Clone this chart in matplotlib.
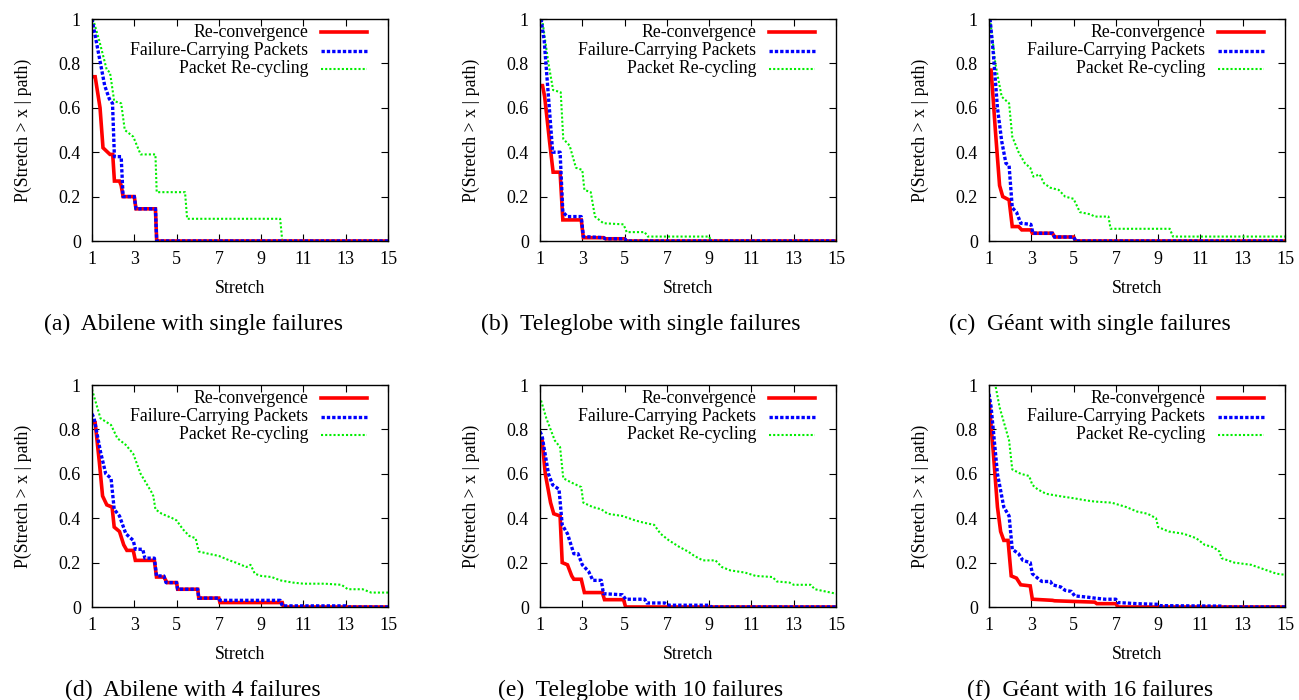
import matplotlib
matplotlib.use("Agg")
import matplotlib.pyplot as plt

plt.rcParams['font.family'] = ['Liberation Serif', 'DejaVu Serif']

# ---------------- data ----------------
series_labels = ["Re-convergence", "Failure-Carrying Packets", "Packet Re-cycling"]
captions = ["(a)  Abilene with single failures", "(b)  Teleglobe with single failures",
            "(c)  Géant with single failures", "(d)  Abilene with 4 failures",
            "(e)  Teleglobe with 10 failures", "(f)  Géant with 16 failures"]
x_ticks = [1, 3, 5, 7, 9, 11, 13, 15]
y_ticks = [0, 0.2, 0.4, 0.6, 0.8, 1]
y_ticklabels = ["0", "0.2", "0.4", "0.6", "0.8", "1"]

# (a) Abilene, single failures
a_rc_x = [1, 1.15, 1.38, 1.52, 1.85, 1.98, 2.06, 2.3, 2.38, 2.47, 3.0, 3.08, 4.0, 4.06, 15]
a_rc_y = [0.74, 0.74, 0.60, 0.42, 0.39, 0.39, 0.27, 0.27, 0.25, 0.20, 0.20, 0.145, 0.145, 0, 0]
a_fcp_x = [1, 1.2, 1.4, 1.6, 1.82, 1.97, 2.06, 2.38, 2.47, 3.0, 3.08, 4.0, 4.06, 15]
a_fcp_y = [1.0, 0.9, 0.8, 0.7, 0.64, 0.62, 0.38, 0.38, 0.20, 0.20, 0.145, 0.145, 0, 0]
a_prc_x = [1.05, 1.35, 1.7, 1.85, 2.05, 2.38, 2.55, 2.95, 3.3, 4.0, 4.06, 5.4, 5.5, 9.9, 10.0, 15]
a_prc_y = [1.0, 0.9, 0.77, 0.76, 0.63, 0.62, 0.50, 0.47, 0.39, 0.39, 0.22, 0.22, 0.10, 0.10, 0, 0]

# (b) Teleglobe, single failures
b_rc_x = [1, 1.12, 1.22, 1.45, 1.62, 1.95, 2.08, 2.95, 3.05, 4.0, 4.1, 5.0, 5.1, 15]
b_rc_y = [0.70, 0.70, 0.65, 0.45, 0.31, 0.31, 0.095, 0.095, 0.015, 0.015, 0.01, 0.01, 0, 0]
b_fcp_x = [1.05, 1.2, 1.4, 1.6, 1.95, 2.08, 2.3, 2.95, 3.05, 4.0, 4.1, 5.0, 5.1, 15]
b_fcp_y = [1.0, 0.9, 0.65, 0.40, 0.40, 0.13, 0.11, 0.11, 0.02, 0.015, 0.01, 0.01, 0, 0]
b_prc_x = [1.1, 1.4, 1.62, 1.98, 2.1, 2.4, 2.7, 3.0, 3.1, 3.4, 3.6, 4.0, 4.95, 5.1, 5.95, 6.1, 9.0, 9.1, 15]
b_prc_y = [1.0, 0.80, 0.68, 0.67, 0.46, 0.43, 0.33, 0.32, 0.23, 0.22, 0.11, 0.08, 0.075, 0.04, 0.04, 0.02, 0.02, 0, 0]

# (c) Geant, single failures
c_rc_x = [1, 1.1, 1.3, 1.5, 1.65, 1.95, 2.1, 2.4, 2.55, 2.98, 3.05, 4.0, 4.1, 5.0, 5.1, 15]
c_rc_y = [0.77, 0.77, 0.50, 0.25, 0.20, 0.185, 0.065, 0.065, 0.05, 0.05, 0.035, 0.035, 0.018, 0.018, 0, 0]
c_fcp_x = [1.05, 1.2, 1.4, 1.6, 1.8, 1.95, 2.1, 2.3, 2.5, 2.98, 3.08, 4.0, 4.1, 5.0, 5.1, 15]
c_fcp_y = [1.0, 0.85, 0.60, 0.45, 0.35, 0.34, 0.15, 0.13, 0.08, 0.075, 0.035, 0.035, 0.018, 0.018, 0, 0]
c_prc_x = [1.05, 1.3, 1.6, 1.95, 2.1, 2.4, 2.7, 2.95, 3.1, 3.4, 3.6, 3.9, 4.3, 4.6, 5.0, 5.3, 5.8, 6.0, 6.65, 6.75, 9.55, 9.7, 15]
c_prc_y = [1.0, 0.80, 0.65, 0.62, 0.47, 0.40, 0.35, 0.33, 0.29, 0.30, 0.26, 0.24, 0.23, 0.20, 0.19, 0.13, 0.12, 0.11, 0.11, 0.055, 0.055, 0.02, 0.02]

# (d) Abilene, 4 failures
d_rc_x = [1, 1.15, 1.35, 1.5, 1.7, 1.95, 2.05, 2.3, 2.5, 2.65, 2.95, 3.05, 3.95, 4.05, 4.4, 4.55, 5.0, 5.05, 6.0, 6.05, 7.0, 7.05, 10.0, 10.05, 15]
d_rc_y = [0.83, 0.83, 0.65, 0.50, 0.46, 0.45, 0.36, 0.34, 0.28, 0.255, 0.255, 0.21, 0.21, 0.135, 0.135, 0.11, 0.11, 0.08, 0.08, 0.04, 0.04, 0.02, 0.02, 0, 0]
d_fcp_x = [1, 1.1, 1.4, 1.65, 1.9, 2.05, 2.3, 2.6, 2.95, 3.05, 3.4, 3.5, 3.95, 4.05, 4.4, 4.5, 5.0, 5.05, 6.0, 6.05, 7.0, 7.05, 9.9, 10.0, 13.0, 13.1, 15]
d_fcp_y = [0.87, 0.85, 0.70, 0.60, 0.58, 0.44, 0.41, 0.33, 0.30, 0.26, 0.26, 0.22, 0.22, 0.14, 0.14, 0.11, 0.11, 0.08, 0.08, 0.04, 0.04, 0.03, 0.03, 0.005, 0.005, 0, 0]
d_prc_x = [1, 1.4, 1.9, 2.2, 2.6, 2.95, 3.3, 3.8, 3.9, 4.0, 4.3, 4.8, 5.0, 5.3, 5.6, 5.9, 6.05, 6.5, 7.0, 7.5, 7.8, 8.3, 8.5, 8.7, 9.0, 9.5, 9.9, 10.5, 11.0, 12.0, 12.8, 13.1, 13.8, 14.2, 15]
d_prc_y = [0.98, 0.85, 0.82, 0.76, 0.73, 0.69, 0.60, 0.52, 0.50, 0.44, 0.42, 0.40, 0.39, 0.35, 0.32, 0.31, 0.25, 0.24, 0.23, 0.21, 0.20, 0.18, 0.19, 0.15, 0.14, 0.135, 0.12, 0.11, 0.105, 0.105, 0.10, 0.08, 0.08, 0.065, 0.065]

# (e) Teleglobe, 10 failures
e_rc_x = [1, 1.1, 1.25, 1.5, 1.65, 1.95, 2.05, 2.3, 2.5, 2.6, 2.95, 3.1, 3.95, 4.05, 4.95, 5.05, 15]
e_rc_y = [0.75, 0.75, 0.60, 0.47, 0.42, 0.41, 0.20, 0.19, 0.14, 0.125, 0.125, 0.065, 0.065, 0.033, 0.033, 0, 0]
e_fcp_x = [1, 1.1, 1.4, 1.6, 1.9, 2.05, 2.3, 2.6, 2.8, 3.0, 3.3, 3.5, 3.9, 4.0, 4.9, 5.05, 5.95, 6.05, 6.9, 7.1, 9.0, 9.1, 15]
e_fcp_y = [0.79, 0.77, 0.60, 0.55, 0.53, 0.37, 0.33, 0.24, 0.24, 0.19, 0.16, 0.12, 0.12, 0.06, 0.055, 0.035, 0.035, 0.018, 0.018, 0.008, 0.008, 0, 0]
e_prc_x = [1.05, 1.3, 1.7, 1.95, 2.1, 2.5, 2.95, 3.05, 3.5, 3.9, 4.2, 4.9, 5.5, 5.9, 6.4, 6.7, 7.1, 7.6, 8.0, 8.3, 8.7, 9.3, 9.6, 10.0, 10.7, 11.2, 12.0, 12.2, 12.8, 13.0, 13.8, 14.0, 14.5, 15]
e_prc_y = [0.93, 0.85, 0.75, 0.72, 0.58, 0.56, 0.54, 0.47, 0.45, 0.44, 0.42, 0.41, 0.39, 0.38, 0.37, 0.33, 0.30, 0.27, 0.25, 0.23, 0.21, 0.21, 0.18, 0.165, 0.155, 0.14, 0.135, 0.115, 0.11, 0.10, 0.10, 0.08, 0.07, 0.06]

# (f) Geant, 16 failures
f_rc_x = [1, 1.2, 1.4, 1.55, 1.7, 1.9, 2.05, 2.3, 2.5, 2.95, 3.05, 4.0, 4.1, 5.0, 6.0, 6.1, 7.0, 7.1, 15]
f_rc_y = [0.93, 0.70, 0.45, 0.34, 0.30, 0.30, 0.14, 0.13, 0.10, 0.095, 0.035, 0.03, 0.028, 0.025, 0.022, 0.015, 0.015, 0, 0]
f_fcp_x = [1, 1.1, 1.4, 1.7, 1.95, 2.1, 2.4, 2.6, 2.95, 3.05, 3.3, 3.5, 3.9, 4.0, 4.4, 4.6, 4.9, 5.05, 5.6, 6.0, 6.5, 7.0, 7.1, 8.0, 9.0, 9.1, 12.0, 12.1, 15]
f_fcp_y = [0.96, 0.90, 0.60, 0.45, 0.41, 0.26, 0.24, 0.21, 0.20, 0.15, 0.13, 0.115, 0.115, 0.10, 0.09, 0.075, 0.07, 0.05, 0.045, 0.04, 0.035, 0.035, 0.02, 0.015, 0.012, 0.006, 0.004, 0, 0]
f_prc_x = [1, 1.3, 1.5, 1.8, 1.95, 2.1, 2.5, 2.9, 3.05, 3.3, 3.7, 4.3, 5.0, 5.6, 6.0, 6.8, 7.5, 8.0, 8.5, 8.9, 9.0, 9.5, 10.2, 10.8, 11.2, 11.6, 11.9, 12.0, 12.6, 13.4, 14.0, 14.6, 15]
f_prc_y = [1.0, 1.0, 0.90, 0.80, 0.75, 0.62, 0.60, 0.59, 0.55, 0.53, 0.51, 0.50, 0.49, 0.48, 0.475, 0.47, 0.45, 0.43, 0.42, 0.40, 0.36, 0.34, 0.33, 0.31, 0.28, 0.27, 0.25, 0.22, 0.20, 0.19, 0.17, 0.15, 0.145]

panels = [
    [(a_rc_x, a_rc_y), (a_fcp_x, a_fcp_y), (a_prc_x, a_prc_y)],
    [(b_rc_x, b_rc_y), (b_fcp_x, b_fcp_y), (b_prc_x, b_prc_y)],
    [(c_rc_x, c_rc_y), (c_fcp_x, c_fcp_y), (c_prc_x, c_prc_y)],
    [(d_rc_x, d_rc_y), (d_fcp_x, d_fcp_y), (d_prc_x, d_prc_y)],
    [(e_rc_x, e_rc_y), (e_fcp_x, e_fcp_y), (e_prc_x, e_prc_y)],
    [(f_rc_x, f_rc_y), (f_fcp_x, f_fcp_y), (f_prc_x, f_prc_y)],
]

# ---------------- styles ----------------
styles = [
    dict(color='#ff0000', lw=2.6, linestyle='-'),
    dict(color='#0000ff', lw=2.4, linestyle=(0, (1.0, 0.6))),
    dict(color='#00ee00', lw=1.5, linestyle=(0, (1.0, 1.0))),
]

W, H = 1299, 700
fig = plt.figure(figsize=(W / 100, H / 100), dpi=100)

lefts = [92, 540, 989]
tops = [19, 385]
aw, ah = 296, 222
FS_TICK = 13
FS = 12.8

for i, series in enumerate(panels):
    r, c = divmod(i, 3)
    l, t = lefts[c], tops[r]
    ax = fig.add_axes([l / W, (H - t - ah) / H, aw / W, ah / H])
    order = [2, 0, 1]
    for k in order:
        xs, ys = series[k]
        ax.plot(xs, ys, solid_joinstyle='miter', dash_capstyle='butt', **styles[k])
    ax.set_xlim(1, 15)
    ax.set_ylim(0, 1)
    ax.set_xticks(x_ticks)
    ax.set_yticks(y_ticks)
    ax.set_yticklabels(y_ticklabels)
    ax.tick_params(direction='in', top=True, right=True, length=5, width=0.8,
                   labelsize=FS_TICK)
    ax.tick_params(axis='y', pad=8)
    ax.tick_params(axis='x', pad=7)
    for s in ax.spines.values():
        s.set_linewidth(1.0)
    ax.set_xlabel("Stretch", fontsize=FS, labelpad=9)
    ax.set_ylabel("P(Stretch > x | path)", fontsize=FS, labelpad=19)
    # legend (right-aligned labels, sample line on the right)
    for k, (lab, yy) in enumerate(zip(series_labels, [0.94, 0.857, 0.775])):
        ax.text(0.73, yy, lab, transform=ax.transAxes, ha='right', va='center', fontsize=FS)
        ax.plot([0.774, 0.929], [yy, yy], transform=ax.transAxes, dash_capstyle='butt', **styles[k])
    # caption
    cx = (l + aw / 2 - 47) / W
    cy = (H - (t + 305)) / H
    fig.text(cx, cy, captions[i], ha='center', va='center', fontsize=17)

fig.savefig("out.png", dpi=100)
